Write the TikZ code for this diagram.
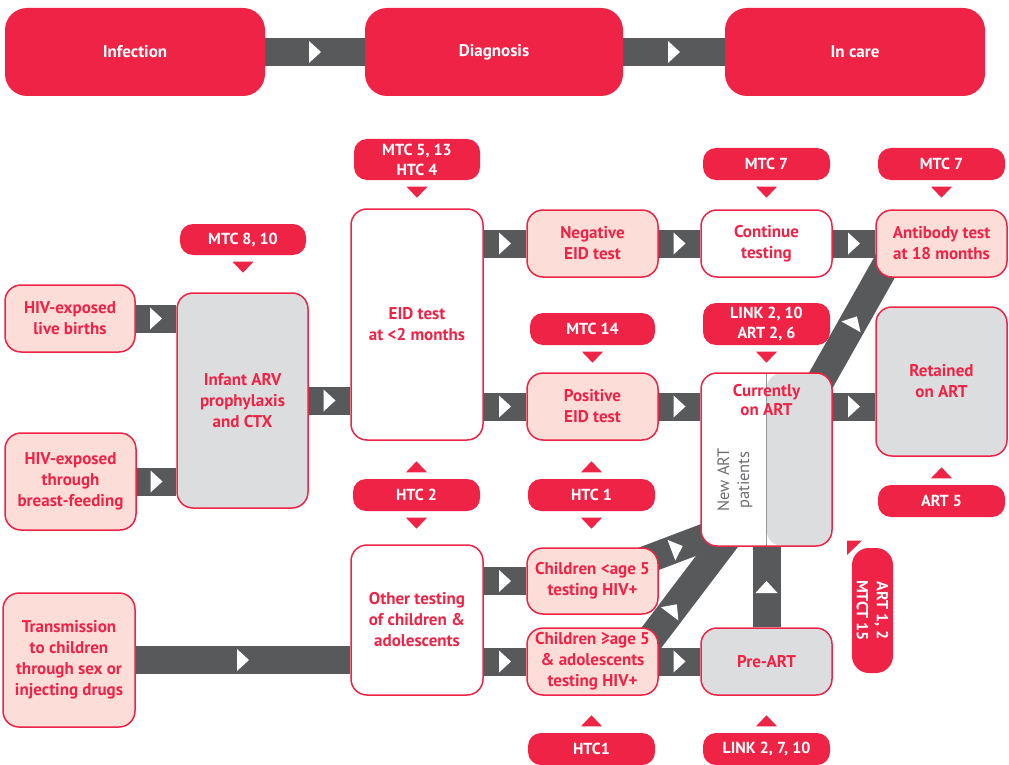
\documentclass[tikz,border=0pt]{standalone}
\usepackage{fontspec}
\setmainfont{PT Sans}
\usetikzlibrary{calc,decorations.markings}
\definecolor{myred}{RGB}{238,35,70}
\definecolor{pinkfill}{RGB}{252,221,215}
\definecolor{boxgray}{RGB}{220,221,222}
\definecolor{bargray}{RGB}{88,89,91}
\definecolor{txtgray}{RGB}{109,110,113}
\definecolor{divgray}{RGB}{150,150,152}
\pgfdeclarelayer{background}
\pgfsetlayers{background,main}
\newcommand\ptrdown[1]{\fill[myred] ($(#1.south)+(-10.5,6.5)$) -- ($(#1.south)+(10.5,6.5)$) -- ($(#1.south)+(0,17.5)$) -- cycle;}
\newcommand\ptrup[1]{\fill[myred] ($(#1.north)+(-10.5,-6.5)$) -- ($(#1.north)+(10.5,-6.5)$) -- ($(#1.north)+(0,-17.5)$) -- cycle;}
\tikzset{
 sz/.style 2 args={minimum width=#1pt, minimum height=#2pt},
 base/.style={inner sep=0pt, align=center, font=\bfseries\fontsize{17}{21}\selectfont},
 box/.style={base, draw=myred, line width=1.5pt, rounded corners=16pt, text=myred},
 pinkbox/.style={box, fill=pinkfill},
 whitebox/.style={box, fill=white},
 graybox/.style={box, fill=boxgray},
 lab/.style={base, fill=myred, text=white, rounded corners=13pt, font=\bfseries\fontsize{16}{20}\selectfont},
 head/.style={base, fill=myred, text=white, rounded corners=22pt, font=\bfseries\fontsize{17}{20}\selectfont},
 bar/.style={draw=bargray, line width=28pt},
 arw/.style={postaction={decorate, decoration={markings, mark=at position #1 with {\fill[white] (-6pt,-11pt) -- (6pt,0pt) -- (-6pt,11pt) -- cycle;}}}},
 arw/.default=0.5
}
\begin{document}
\begin{tikzpicture}[x=1pt,y=-1pt]
\useasboundingbox (0,0) rectangle (1009,765);
% header
\node[head, sz={260}{88}] (hinf) at (135,52) {Infection};
\node[head, sz={258}{88}] (hdia) at (494,52) {Diagnosis};
\node[head, sz={260}{88}] (hcare) at (855,52) {In care};
% content boxes
\node[pinkbox, sz={130}{67}] (lb) at (70,318.5) {HIV-exposed\\live births};
\node[pinkbox, sz={131}{97}] (bf) at (70.5,481.5) {HIV-exposed\\through\\breast-feeding};
\node[graybox, sz={131}{215}] (infant) at (242.5,400.5) {Infant ARV\\prophylaxis\\and CTX};
\node[whitebox, sz={132}{231}] (eid) at (417,324.5) {EID test\\at <2 months};
\node[pinkbox, sz={131}{67}] (neg) at (592.5,243.5) {Negative\\EID test};
\node[whitebox, sz={131}{67}] (cont) at (766.5,243.5) {Continue\\testing};
\node[pinkbox, sz={131}{67}] (ab) at (941.5,243.5) {Antibody test\\at 18 months};
\node[pinkbox, sz={131}{67}] (posn) at (592.5,406.5) {Positive\\EID test};
\node[whitebox, sz={131}{173}, path picture={
  \fill[boxgray] (path picture bounding box.north) rectangle (path picture bounding box.south east);
  \draw[divgray, line width=1pt] (path picture bounding box.north) -- (path picture bounding box.south);}] (cur) at (766.5,459.5) {};
\node[base, text=myred, font=\bfseries\fontsize{17}{19}\selectfont] (curt) at (766.5,400) {Currently\\on ART};
\node[base, text=txtgray, font=\fontsize{16.5}{20}\selectfont, rotate=90] (newart) at (735,480) {New ART\\patients};
\node[graybox, sz={131}{149}] (ret) at (941.5,381.5) {Retained\\on ART};
\node[pinkbox, sz={132}{134}] (tr) at (69,660) {Transmission\\to children\\through sex or\\injecting drugs};
\node[whitebox, sz={132}{150}] (oth) at (417,620) {Other testing\\of children \&\\adolescents};
\node[pinkbox, sz={131}{66}] (c5) at (592.5,581) {Children <age 5\\testing HIV+};
\node[pinkbox, sz={131}{67}] (ca) at (592.5,661.5) {Children ≥age 5\\\& adolescents\\testing HIV+};
\node[graybox, sz={131}{67}] (pre) at (766.5,661.5) {Pre-ART};
% labels
\node[lab, sz={126}{31}] (l810) at (243,239.5) {MTC 8, 10};
\node[lab, sz={126}{41}] (l513) at (417,159.5) {MTC 5, 13\\HTC 4};
\node[lab, sz={127}{32}] (l7a) at (766.5,164) {MTC 7};
\node[lab, sz={127}{32}] (l7b) at (941.5,164) {MTC 7};
\node[lab, sz={125}{32}] (l14) at (592.5,329) {MTC 14};
\node[lab, sz={127}{42}] (llink) at (766.5,324) {LINK 2, 10\\ART 2, 6};
\node[lab, sz={127}{32}] (lhtc2) at (416.5,495) {HTC 2};
\node[lab, sz={127}{32}] (lhtc1) at (591.5,495) {HTC 1};
\node[lab, sz={127}{32}] (lart5) at (941.5,501) {ART 5};
\node[lab, sz={127}{32}] (lhtc1b) at (591.5,749) {HTC1};
\node[lab, sz={127}{32}] (llink2) at (766.5,749) {LINK 2, 7, 10};
\node[lab, sz={125}{41}, rounded corners=17pt, rotate=-90] (lart12) at (872.5,610.5) {ART 1, 2\\MTCT 15};
% pointers
\ptrdown{l810} \ptrdown{l513} \ptrdown{l7a} \ptrdown{l7b} \ptrdown{l14} \ptrdown{llink}
\ptrup{lhtc2} \ptrdown{lhtc2} \ptrup{lhtc1} \ptrdown{lhtc1} \ptrup{lart5} \ptrup{lhtc1b} \ptrup{llink2}
\fill[myred] ($(lart12.center)+(-25.5,-70)$) -- ($(lart12.center)+(-10.5,-70)$) -- ($(lart12.center)+(-25.5,-55.5)$) -- cycle;
% connectors
\begin{pgfonlayer}{background}
\draw[bar, arw] (hinf.east) -- (hdia.west);
\draw[bar, arw] (hdia.east) -- (hcare.west);
\draw[bar, arw] (lb.east) -- (lb.east -| infant.west);
\draw[bar, arw] (bf.east) -- (bf.east -| infant.west);
\draw[bar, arw] (infant.east) -- (infant.east -| eid.west);
\draw[bar, arw] (neg.west -| eid.east) -- (neg.west);
\draw[bar, arw] (posn.west -| eid.east) -- (posn.west);
\draw[bar, arw] (neg.east) -- (cont.west);
\draw[bar, arw] (cont.east) -- (ab.west);
\draw[bar, arw] (posn.east) -- (posn.east -| cur.west);
\draw[bar, arw] (posn.east -| cur.east) -- (posn.east -| ret.west);
\draw[bar, arw=0.54] ($(cur.north east)+(-39,56)$) -- ($(ab.south west)+(30,-47)$);
\draw[bar, arw] (tr.east) -- (tr.east -| oth.west);
\draw[bar, arw] (c5.west -| oth.east) -- (c5.west);
\draw[bar, arw] (ca.west -| oth.east) -- (ca.west);
\draw[bar, arw] (ca.east) -- (pre.west);
\draw[bar, arw] (pre.north) -- (cur.south);
\draw[bar, arw=0.475] ($(c5.east)+(-38,-11.6)$) -- ($(cur.south west)+(39,-22.2)$);
\draw[bar, arw=0.364] ($(ca.north east)+(-24.7,33.4)$) -- ($(cur.south west)+(41.4,-27.9)$);
\end{pgfonlayer}
\end{tikzpicture}
\end{document}
